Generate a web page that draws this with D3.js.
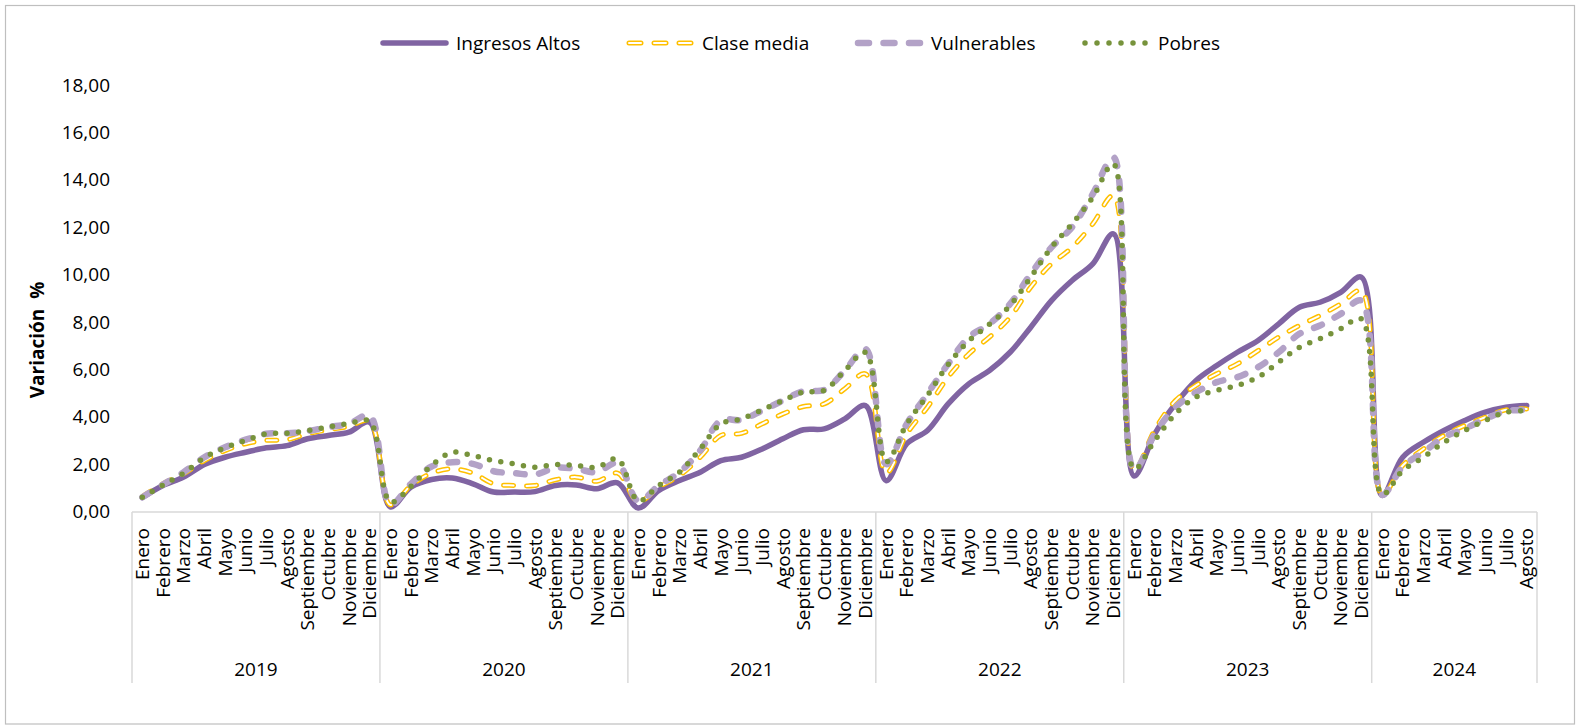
<!DOCTYPE html>
<html>
<head>
<meta charset="utf-8">
<script src="https://cdn.jsdelivr.net/npm/d3@7"></script>
<style>
  html, body { margin: 0; padding: 0; background: #fff; }
  text { font-family: "Open Sans", "Noto Sans", sans-serif; fill: #000; }
</style>
</head>
<body>
<script>
// data
const years = ["2019", "2020", "2021", "2022", "2023", "2024"];
const monthNames = ["Enero", "Febrero", "Marzo", "Abril", "Mayo", "Junio", "Julio",
  "Agosto", "Septiembre", "Octubre", "Noviembre", "Diciembre"];
const monthsPerYear = [12, 12, 12, 12, 12, 8];

const ingresosAltos = [
  0.59, 1.10, 1.45, 1.98, 2.29, 2.50, 2.69, 2.78, 3.07, 3.21, 3.35, 3.77,
  0.20, 1.03, 1.35, 1.41, 1.17, 0.82, 0.82, 0.84, 1.10, 1.12, 0.96, 1.21,
  0.15, 0.89, 1.31, 1.66, 2.15, 2.29, 2.64, 3.07, 3.45, 3.49, 3.91, 4.47,
  1.30, 2.86, 3.42, 4.54, 5.39, 5.95, 6.72, 7.78, 8.90, 9.75, 10.45, 11.72,
  1.50, 3.28, 4.54, 5.53, 6.16, 6.72, 7.22, 7.92, 8.62, 8.83, 9.25, 9.89,
  0.68, 2.29, 2.92, 3.42, 3.84, 4.19, 4.40, 4.47];
const claseMedia = [
  0.63, 1.17, 1.60, 2.15, 2.57, 2.86, 3.00, 3.03, 3.28, 3.45, 3.59, 3.81,
  0.28, 1.10, 1.62, 1.80, 1.62, 1.17, 1.10, 1.10, 1.34, 1.45, 1.28, 1.62,
  0.42, 1.03, 1.52, 2.29, 3.21, 3.30, 3.70, 4.12, 4.43, 4.54, 5.18, 5.81,
  1.62, 3.28, 4.40, 5.67, 6.65, 7.36, 8.20, 9.47, 10.45, 11.15, 12.14, 13.33,
  1.75, 3.45, 4.68, 5.32, 5.81, 6.23, 6.79, 7.36, 7.85, 8.27, 8.76, 9.32,
  0.70, 1.94, 2.64, 3.21, 3.63, 3.98, 4.29, 4.33];
const vulnerables = [
  0.60, 1.14, 1.66, 2.29, 2.71, 3.03, 3.28, 3.30, 3.39, 3.56, 3.70, 4.05,
  0.30, 1.17, 1.90, 2.08, 2.01, 1.70, 1.62, 1.56, 1.84, 1.80, 1.66, 2.04,
  0.45, 1.10, 1.66, 2.57, 3.84, 3.87, 4.26, 4.68, 5.08, 5.13, 5.95, 6.86,
  2.00, 3.70, 4.97, 6.23, 7.36, 7.92, 8.76, 10.03, 11.15, 12.00, 13.40, 14.95,
  1.75, 3.28, 4.40, 5.03, 5.46, 5.67, 6.09, 6.72, 7.50, 7.85, 8.34, 8.90,
  0.70, 1.90, 2.50, 3.14, 3.49, 3.91, 4.23, 4.29];
const pobres = [
  0.60, 1.12, 1.62, 2.27, 2.69, 3.00, 3.28, 3.30, 3.42, 3.56, 3.72, 3.80,
  0.40, 1.06, 1.94, 2.50, 2.36, 2.15, 2.01, 1.87, 1.98, 1.94, 1.87, 2.22,
  0.45, 1.10, 1.66, 2.64, 3.70, 3.91, 4.29, 4.68, 5.04, 5.11, 5.95, 6.72,
  2.10, 3.70, 4.90, 6.20, 7.20, 7.90, 8.70, 9.89, 11.15, 12.14, 13.26, 14.67,
  1.80, 3.00, 4.12, 4.83, 5.11, 5.32, 5.67, 6.30, 6.93, 7.29, 7.71, 8.13,
  0.72, 1.73, 2.29, 2.92, 3.42, 3.84, 4.19, 4.26];
const yTicks = [0, 2, 4, 6, 8, 10, 12, 14, 16, 18];

// one entry per month: label + year index
let cats = [];
years.forEach(function (y, yi) {
  for (let m = 0; m < monthsPerYear[yi]; m++) cats.push({ year: yi, month: monthNames[m] });
});

const series = [
  { name: "Ingresos Altos", values: ingresosAltos, color: "#8064a2", width: 5.5, dash: null },
  { name: "Clase media", values: claseMedia, color: "#ffc000", width: 5, dash: "10,13", hollow: true },
  { name: "Vulnerables", values: vulnerables, color: "#b3a2c7", width: 6.5, dash: "8.5,14.5" },
  { name: "Pobres", values: pobres, color: "#77933c", width: 5.5, dash: "0,11.5" }
];

const W = 1576, H = 725;
const svg = d3.select("body").append("svg").attr("width", W).attr("height", H);

// chart area border
svg.append("rect")
  .attr("x", 5.5).attr("y", 5.5).attr("width", 1569).attr("height", 718.5)
  .attr("fill", "none").attr("stroke", "#bfbfbf").attr("stroke-width", 1.2);

const x = d3.scaleBand().domain(d3.range(cats.length)).range([132, 1537]);
const y = d3.scaleLinear().domain([0, 18]).range([511.5, 85]);
const cx = i => x(i) + x.bandwidth() / 2;

const loc = d3.formatLocale({ decimal: ",", thousands: ".", grouping: [3], currency: ["", ""] });

// y axis
const yAxis = svg.append("g")
  .attr("transform", "translate(132,0)")
  .call(d3.axisLeft(y).tickValues(yTicks).tickSize(0).tickPadding(22).tickFormat(loc.format(".2f")));
yAxis.select(".domain").remove();
yAxis.selectAll("text").style("font-family", "'Open Sans', sans-serif").style("font-size", "19px").attr("fill", "#000");

svg.append("text")
  .attr("transform", "translate(44,340) rotate(-90)")
  .attr("text-anchor", "middle")
  .style("font-size", "19px").style("font-weight", "bold")
  .style("white-space", "pre")
  .text("Variación  %");

// category axis (months + years)
const axisCol = "#d9d9d9";
svg.append("line")
  .attr("x1", 132).attr("x2", 1537).attr("y1", 512).attr("y2", 512)
  .attr("stroke", axisCol).attr("stroke-width", 1.5);
let start = 0;
const bounds = [0];
monthsPerYear.forEach(function (n) { start += n; bounds.push(start); });
bounds.forEach(function (b) {
  const bx = b < cats.length ? x(b) : x.range()[1];
  svg.append("line")
    .attr("x1", bx).attr("x2", bx).attr("y1", 512).attr("y2", 683)
    .attr("stroke", axisCol).attr("stroke-width", 1.5);
});
svg.append("g").selectAll("text")
  .data(cats)
  .join("text")
  .attr("transform", (d, i) => "translate(" + cx(i) + ",528) rotate(-90)")
  .attr("text-anchor", "end")
  .attr("dy", "0.35em")
  .style("font-size", "19px")
  .text(d => d.month);
svg.append("g").selectAll("text")
  .data(years)
  .join("text")
  .attr("x", (d, i) => {
    const a = x(bounds[i]);
    const b = bounds[i + 1] < cats.length ? x(bounds[i + 1]) : x.range()[1];
    return (a + b) / 2;
  })
  .attr("y", 676)
  .attr("text-anchor", "middle")
  .style("font-size", "19px")
  .text(d => d);

// lines
const line = d3.line()
  .x((d, i) => cx(i))
  .y(d => y(d))
  .curve(d3.curveCatmullRom.alpha(0.5));

function strokeStyle(sel, s) {
  sel.attr("fill", "none")
    .attr("stroke", s.color)
    .attr("stroke-width", s.width)
    .attr("stroke-linecap", "round")
    .attr("stroke-linejoin", "round");
  if (s.dash) sel.attr("stroke-dasharray", s.dash);
  return sel;
}

series.forEach(function (s) {
  const p = svg.append("path").attr("d", line(s.values));
  strokeStyle(p, s);
  if (s.hollow) {
    svg.append("path").attr("d", line(s.values))
      .attr("fill", "none").attr("stroke", "#fff").attr("stroke-width", 2)
      .attr("stroke-linecap", "round").attr("stroke-dasharray", s.dash);
  }
});

// legend
const legendX = [380, 626, 855, 1082];
const legDash = [null, "12,13", "11,14.5", "0,12"];
const leg = svg.append("g");
series.forEach(function (s, i) {
  const lx = legendX[i];
  const ly = 43;
  const ls = Object.assign({}, s, { dash: legDash[i] });
  const seg = leg.append("path").attr("d", "M" + (lx + 3) + "," + ly + "H" + (lx + 66));
  strokeStyle(seg, ls);
  if (s.hollow) {
    leg.append("path").attr("d", "M" + (lx + 3) + "," + ly + "H" + (lx + 66))
      .attr("fill", "none").attr("stroke", "#fff").attr("stroke-width", 2)
      .attr("stroke-linecap", "round").attr("stroke-dasharray", ls.dash);
  }
  leg.append("text")
    .attr("x", lx + 76).attr("y", ly).attr("dy", "0.35em")
    .style("font-size", "19px")
    .text(s.name);
});
</script>
</body>
</html>
